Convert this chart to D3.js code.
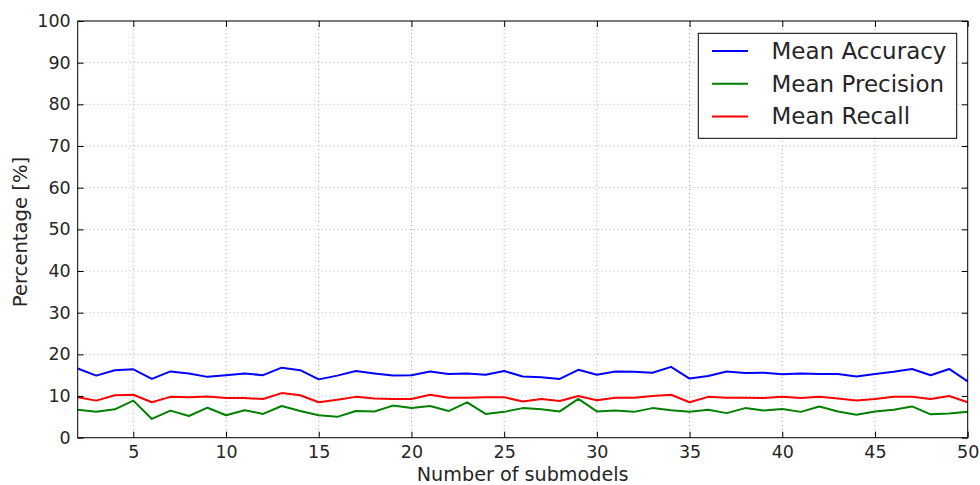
<!DOCTYPE html>
<html><head><meta charset="utf-8">
<script src="https://cdn.jsdelivr.net/npm/d3@7"></script>
<style>body{margin:0;background:#fff}svg{display:block}text{font-family:"DejaVu Sans",sans-serif}</style>
</head><body><svg id="c" width="980" height="485"></svg>
<script>
const submodels = d3.range(2, 51);
const accuracy = [16.6,14.9,16.2,16.4,14.1,15.9,15.4,14.6,15.0,15.4,15.0,16.8,16.2,14.0,14.9,16.0,15.4,14.9,15.0,15.9,15.3,15.4,15.1,16.0,14.7,14.5,14.1,16.3,15.1,15.9,15.8,15.6,17.0,14.2,14.8,15.9,15.5,15.6,15.2,15.4,15.3,15.3,14.7,15.3,15.8,16.5,15.0,16.5,13.5];
const precision = [6.7,6.2,6.8,8.9,4.5,6.5,5.2,7.2,5.4,6.6,5.7,7.6,6.4,5.4,5.0,6.4,6.3,7.7,7.1,7.6,6.4,8.5,5.7,6.2,7.1,6.8,6.3,9.3,6.3,6.5,6.2,7.1,6.6,6.2,6.7,5.9,7.1,6.5,6.9,6.2,7.5,6.3,5.5,6.3,6.7,7.5,5.6,5.8,6.2];
const recall = [9.7,8.9,10.2,10.3,8.5,9.8,9.7,9.9,9.5,9.5,9.3,10.7,10.2,8.5,9.1,9.8,9.4,9.3,9.3,10.3,9.6,9.6,9.7,9.7,8.7,9.3,8.8,10.0,9.0,9.6,9.6,10.0,10.3,8.5,9.8,9.6,9.6,9.5,9.8,9.5,9.8,9.4,8.9,9.3,9.8,9.8,9.3,10.0,8.5];
const seriesNames = ["Mean Accuracy","Mean Precision","Mean Recall"];
const seriesColors = ["#0000ff","#008000","#ff0000"];
const xTicks = [5,10,15,20,25,30,35,40,45,50];
const yTicks = d3.range(0, 101, 10);

const svg = d3.select("#c");
const L = 77.7, R = 967.7, T = 21, B = 437.7;
const x = d3.scaleLinear().domain([2, 50]).range([L, R]);
const y = d3.scaleLinear().domain([0, 100]).range([B, T]);

// grid
const g = svg.append("g");
g.selectAll(".gx").data(xTicks).join("line")
  .attr("x1", d => x(d)).attr("x2", d => x(d)).attr("y1", T).attr("y2", B)
  .attr("stroke", "#b0b0b0").attr("stroke-width", 1).attr("stroke-dasharray", "1,3");
g.selectAll(".gy").data(yTicks).join("line")
  .attr("x1", L).attr("x2", R).attr("y1", d => y(d)).attr("y2", d => y(d))
  .attr("stroke", "#b0b0b0").attr("stroke-width", 1).attr("stroke-dasharray", "1,3");

// lines
const all = [accuracy, precision, recall];
const line = d3.line().x((d, i) => x(submodels[i])).y(d => y(d));
all.forEach((s, k) => {
  svg.append("path").datum(s).attr("d", line).attr("fill", "none")
    .attr("stroke", seriesColors[k]).attr("stroke-width", 2).attr("stroke-linejoin", "round");
});

// axes
const xa = svg.append("g").attr("transform", `translate(0,${B})`)
  .call(d3.axisBottom(x).tickValues(xTicks).tickSizeInner(-6).tickSizeOuter(0).tickPadding(8));
const xt = svg.append("g").attr("transform", `translate(0,${T})`)
  .call(d3.axisTop(x).tickValues(xTicks).tickSizeInner(-6).tickSizeOuter(0).tickFormat(""));
const ya = svg.append("g").attr("transform", `translate(${L},0)`)
  .call(d3.axisLeft(y).tickValues(yTicks).tickSizeInner(-6).tickSizeOuter(0).tickPadding(7));
const yr = svg.append("g").attr("transform", `translate(${R},0)`)
  .call(d3.axisRight(y).tickValues(yTicks).tickSizeInner(-6).tickSizeOuter(0).tickFormat(""));
[xa, xt, ya, yr].forEach(a => {
  a.select(".domain").remove();
  a.selectAll("line").attr("stroke", "#000");
  a.selectAll("text").attr("font-size", 17.5).attr("fill", "#262626").attr("font-family", "DejaVu Sans");
});
svg.append("rect").attr("x", L).attr("y", T).attr("width", R - L).attr("height", B - T)
  .attr("fill", "none").attr("stroke", "#000").attr("stroke-width", 1);

// labels
svg.append("text").attr("x", (L + R) / 2).attr("y", 481).attr("text-anchor", "middle")
  .attr("font-size", 19.2).attr("fill", "#262626").text("Number of submodels");
svg.append("text").attr("transform", `translate(27,232) rotate(-90)`).attr("text-anchor", "middle")
  .attr("font-size", 19.6).attr("fill", "#262626").text("Percentage [%]");

// legend
const lg = svg.append("g");
lg.append("rect").attr("x", 698.3).attr("y", 33.3).attr("width", 258.4).attr("height", 105)
  .attr("fill", "#fff").attr("stroke", "#000").attr("stroke-width", 1);
seriesNames.forEach((n, k) => {
  const yy = 51 + k * 32.7;
  lg.append("line").attr("x1", 712).attr("x2", 748).attr("y1", yy).attr("y2", yy)
    .attr("stroke", seriesColors[k]).attr("stroke-width", 2);
  lg.append("text").attr("x", 771.5).attr("y", yy).attr("dy", "0.35em")
    .attr("font-size", 23).attr("fill", "#262626").text(n);
});
</script></body></html>
